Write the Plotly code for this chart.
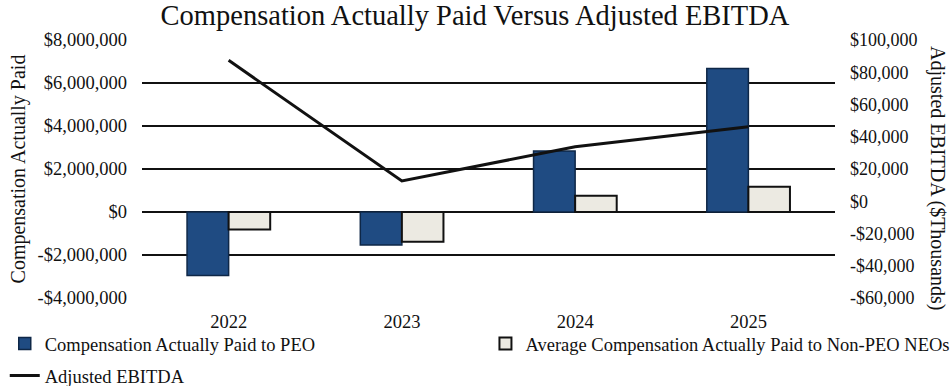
import plotly.graph_objects as go

years = ["2022", "2023", "2024", "2025"]
cap_peo = [-2950000, -1530000, 2840000, 6670000]
cap_non_peo = [-810000, -1380000, 760000, 1180000]
adj_ebitda = [87400, 12600, 33800, 46200]

left_ticks = [-4000000, -2000000, 0, 2000000, 4000000, 6000000, 8000000]
left_labels = ["-$4,000,000", "-$2,000,000", "$0", "$2,000,000", "$4,000,000", "$6,000,000", "$8,000,000"]
right_ticks = [-60000, -40000, -20000, 0, 20000, 40000, 60000, 80000, 100000]
right_labels = ["-$60,000", "-$40,000", "-$20,000", "$0", "$20,000", "$40,000", "$60,000", "$80,000", "$100,000"]

FONT = "Liberation Serif"
INK = "#111111"

fig = go.Figure()
fig.add_trace(go.Bar(
    x=years, y=cap_peo, name="Compensation Actually Paid to PEO", legend="legend",
    marker=dict(color="#1F4B82", line=dict(color="#0E2747", width=1.5)),
))
fig.add_trace(go.Bar(
    x=years, y=cap_non_peo, name="Average Compensation Actually Paid to Non-PEO NEOs",
    legend="legend2",
    marker=dict(color="#ECEAE2", line=dict(color=INK, width=2)),
))
fig.add_trace(go.Scatter(
    x=years, y=adj_ebitda, name="Adjusted EBITDA", yaxis="y2", legend="legend3",
    mode="lines", line=dict(color=INK, width=3),
))

legend_common = dict(orientation="h", xref="container", yref="container",
                     xanchor="left", yanchor="middle", itemwidth=30,
                     font=dict(family=FONT, size=18.5, color=INK),
                     bgcolor="rgba(0,0,0,0)")

fig.update_layout(
    width=950, height=386,
    margin=dict(l=142, r=115, t=40, b=88, autoexpand=False),
    paper_bgcolor="white", plot_bgcolor="white",
    font=dict(family=FONT, color=INK, size=18),
    title=dict(text="Compensation Actually Paid Versus Adjusted EBITDA",
               x=0.5, xanchor="center", y=0.961, yanchor="middle",
               font=dict(family=FONT, size=28.5, color=INK)),
    barmode="group", bargap=0.52, bargroupgap=0,
    xaxis=dict(showgrid=False, showline=False, ticks="", zeroline=False,
               tickfont=dict(family=FONT, size=18.5), ticklabelstandoff=10),
    yaxis=dict(range=[-4000000, 8000000], tickvals=left_ticks, ticktext=left_labels,
               showgrid=True, gridcolor=INK, gridwidth=2, zeroline=False,
               showline=False, ticks="", tickfont=dict(family=FONT, size=18.5),
               ticklabelstandoff=14,
               title=dict(text="Compensation Actually Paid",
                          font=dict(family=FONT, size=20), standoff=6)),
    yaxis2=dict(range=[-60000, 100000], tickvals=right_ticks, ticktext=right_labels,
                overlaying="y", side="right", showgrid=False, zeroline=False,
                showline=False, ticks="", tickfont=dict(family=FONT, size=18),
                ticklabelstandoff=14),
    legend=dict(legend_common, x=0.005, y=0.109),
    legend2=dict(legend_common, x=0.511, y=0.109),
    legend3=dict(legend_common, x=0.005, y=0.026),
    showlegend=True,
    annotations=[dict(text="Adjusted EBITDA ($Thousands)", textangle=90,
                      xref="paper", yref="paper", x=1.1486, y=0.465,
                      xanchor="center", yanchor="middle", showarrow=False,
                      font=dict(family=FONT, size=20, color=INK))],
)

fig.write_html("out.html", config={"displayModeBar": False},
               post_script="document.body.style.margin='0';")
